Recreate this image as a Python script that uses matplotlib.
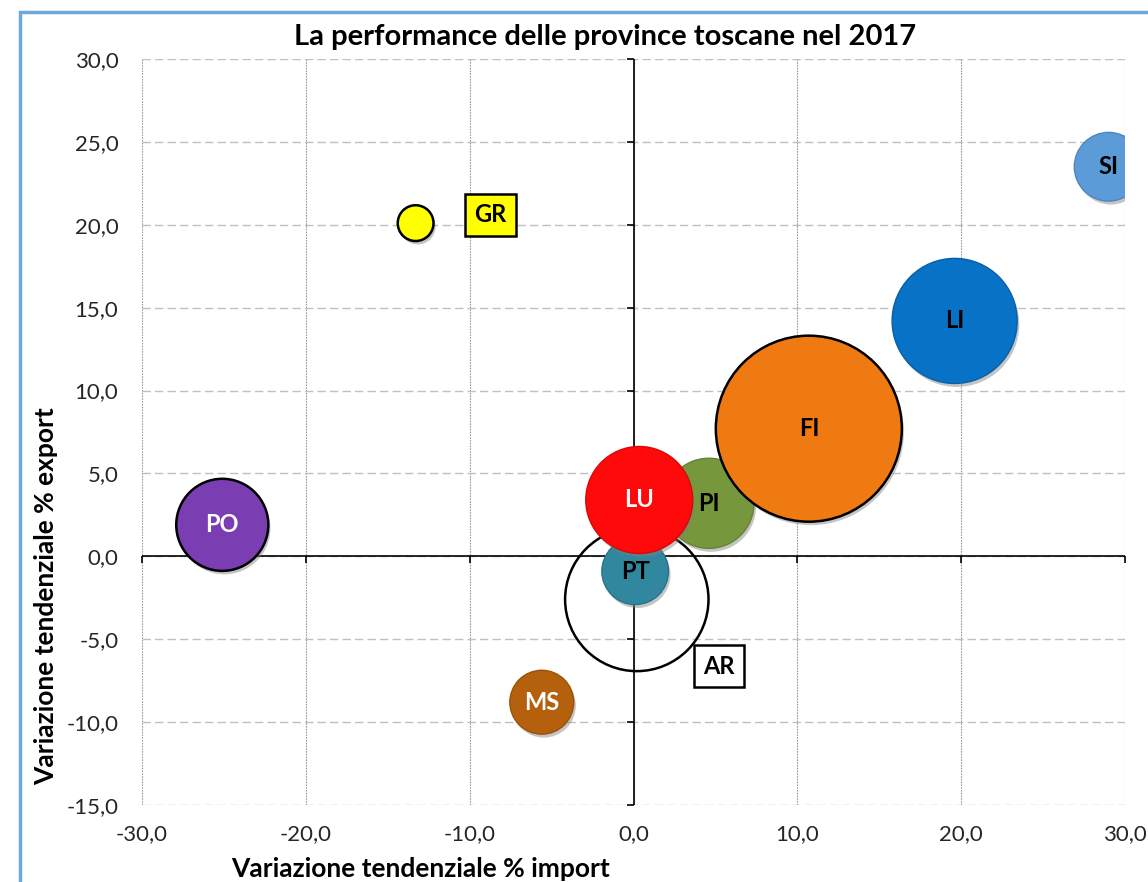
import numpy as np
import matplotlib
matplotlib.use("Agg")
import matplotlib.pyplot as plt
import matplotlib.patheffects as pe
from matplotlib.patches import Rectangle
from matplotlib.ticker import FuncFormatter

plt.rcParams['font.family'] = ['Lato', 'DejaVu Sans']

# province data (drawing order: back to front)
province = ["AR", "PT", "PI", "LU", "FI", "LI", "SI", "MS", "PO", "GR"]
var_import = [0.2, 0.1, 4.6, 0.35, 10.7, 19.6, 29.0, -5.6, -25.1, -13.3]
var_export = [-2.6, -0.9, 3.2, 3.4, 7.7, 14.2, 23.5, -8.8, 1.9, 20.1]
bubble_size = [51.4, 11.1, 20.3, 28.6, 86.5, 39.1, 11.8, 10.2, 21.2, 3.2]

fill_col = ["none", "#31879E", "#77973D", "#FF0A0A", "#F07A12", "#0872C6",
            "#5B9BD8", "#B5600C", "#7A3DB2", "#FFFF00"]
edge_col = ["black", "#2A7387", "#668234", "#D80808", "black", "#0660A8",
            "#4E86BC", "#9A520A", "black", "black"]
text_col = ["black", "black", "black", "white", "black", "black",
            "black", "white", "white", "black"]
boxed = ["AR", "GR"]
box_offset = {"AR": (59, -48), "GR": (54, 6)}

xticks = np.arange(-30, 31, 10)
yticks = np.arange(-15, 31, 5)

fig = plt.figure(figsize=(11.48, 8.82), dpi=100)
ax = fig.add_axes([0.1237, 0.0873, 0.8563, 0.8458])

scale = 207.4
for i, p in enumerate(province):
    lw = 1.8 if edge_col[i] == "black" else 1.0
    sc = ax.scatter(var_import[i], var_export[i], s=bubble_size[i] * scale,
                    c=fill_col[i] if fill_col[i] != "none" else "none",
                    edgecolors=edge_col[i], linewidths=lw, zorder=3 + i)
    if fill_col[i] != "none":
        sc.set_path_effects([pe.SimplePatchShadow(offset=(1.5, -2.5), shadow_rgbFace="gray", alpha=0.45),
                             pe.Normal()])
    if p in boxed:
        ax.annotate(p, (var_import[i], var_export[i]), xytext=box_offset[p],
                    textcoords="offset points", ha="center", va="center",
                    fontsize=17, fontweight="bold", color=text_col[i], zorder=20,
                    bbox=dict(boxstyle="square,pad=0.4",
                              fc=fill_col[i] if fill_col[i] != "none" else "white",
                              ec="black", lw=1.8))
    else:
        ax.text(var_import[i], var_export[i], p, ha="center", va="center",
                fontsize=17, fontweight="bold", color=text_col[i], zorder=20, clip_on=True)

ax.set_xlim(-30, 30)
ax.set_ylim(-15, 30)
ax.set_xticks(xticks)
ax.set_yticks(yticks)
fmt = FuncFormatter(lambda v, pos: f"{v:.1f}".replace(".", ","))
ax.xaxis.set_major_formatter(fmt)
ax.yaxis.set_major_formatter(fmt)
ax.tick_params(axis="both", length=0, labelsize=16, labelcolor="#262626")
ax.tick_params(axis="y", pad=17)
ax.tick_params(axis="x", pad=14)

for s in ax.spines.values():
    s.set_visible(False)

ax.grid(axis="y", color="#C0C0C0", linestyle=(0, (6, 3)), linewidth=1.0, zorder=0)
ax.grid(axis="x", color="#9A9A9A", linestyle=(0, (1.5, 1)), linewidth=0.8, zorder=0)
ax.set_axisbelow(True)

ax.axhline(0, color="black", linewidth=1.2, zorder=1)
ax.axvline(0, color="black", linewidth=1.2, zorder=1)
ax.plot(np.zeros(len(yticks)), yticks, linestyle="none", marker=0, markersize=5,
        color="black", markeredgewidth=1.2, clip_on=False, zorder=1)
ax.plot(xticks, np.zeros(len(xticks)), linestyle="none", marker=3, markersize=5,
        color="black", markeredgewidth=1.2, clip_on=False, zorder=1)

ax.set_xlabel("Variazione tendenziale % import", fontsize=19, fontweight="bold")
ax.xaxis.set_label_coords(0.283, -0.07)
ax.set_ylabel("Variazione tendenziale % export", fontsize=19, fontweight="bold")
ax.yaxis.set_label_coords(-0.085, 0.28)

fig.text(0.527, 0.958, "La performance delle province toscane nel 2017",
         ha="center", va="center", fontsize=21, fontweight="bold")

fig.patches.append(Rectangle((20 / 1148, -0.1), 1.2, 1.1 - 12 / 882,
                             transform=fig.transFigure, fill=False,
                             edgecolor="#6FA8DC", linewidth=2.5))

fig.savefig("out.png", dpi=100)
